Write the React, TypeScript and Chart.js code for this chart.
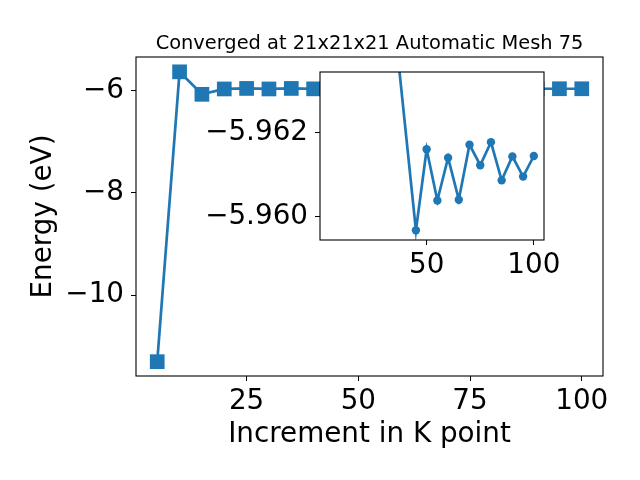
import React, { useEffect, useRef } from "react";
import { Chart, registerables } from "chart.js";

Chart.register(...registerables);

// ---- data ----
const K_POINTS = [5, 10, 15, 20, 25, 30, 35, 40, 45, 50, 55, 60, 65, 70, 75, 80, 85, 90, 95, 100];
const ENERGIES = [
  -11.3, -5.63, -6.07, -5.965, -5.955, -5.965, -5.955, -5.963, -5.95967, -5.9616,
  -5.96038, -5.9614, -5.9604, -5.96171, -5.96122, -5.96177, -5.96086, -5.96143, -5.96095, -5.96144,
];
const INSET_K = [35, 45, 50, 55, 60, 65, 70, 75, 80, 85, 90, 95, 100];
const INSET_E = [
  -5.9646, -5.95967, -5.9616, -5.96038, -5.9614, -5.9604, -5.96171, -5.96122, -5.96177,
  -5.96086, -5.96143, -5.96095, -5.96144,
];
const MAIN_X_TICKS = [25, 50, 75, 100];
const MAIN_Y_TICKS = [-10, -8, -6];
const INSET_X_TICKS = [50, 100];
const INSET_Y_TICKS = [-5.962, -5.96];
const TITLE = "Converged at 21x21x21 Automatic Mesh 75";
const X_LABEL = "Increment in K point";
const Y_LABEL = "Energy (eV)";

const BLUE = "#1f77b4";
const FONT = "DejaVu Sans";
const TICK_SIZE = 27.8;
const TITLE_SIZE = 19.4;
const LINE_W = 2.7;

const minus = (s: string) => s.replace("-", "\u2212");

const zeroPad = (s: any) => {
  s.paddingTop = 0;
  s.paddingBottom = 0;
  s.paddingLeft = 0;
  s.paddingRight = 0;
};

const framePlugin = {
  id: "frame",
  afterDatasetsDraw(chart: any) {
    const { ctx, chartArea: a } = chart;
    ctx.save();
    ctx.strokeStyle = "#000";
    ctx.lineWidth = 1.1;
    ctx.strokeRect(a.left, a.top, a.right - a.left, a.bottom - a.top);
    ctx.restore();
  },
};

const mainBg = {
  id: "mainBg",
  beforeDraw(chart: any) {
    const { ctx, width, height } = chart;
    ctx.save();
    ctx.fillStyle = "#fff";
    ctx.fillRect(0, 0, width, height);
    ctx.restore();
  },
  afterDraw(chart: any) {
    const { ctx, chartArea: a } = chart;
    ctx.save();
    ctx.fillStyle = "#000";
    ctx.font = `${TITLE_SIZE}px '${FONT}'`;
    ctx.textAlign = "center";
    ctx.textBaseline = "alphabetic";
    ctx.fillText(TITLE, (a.left + a.right) / 2, 49);
    ctx.restore();
  },
};

const insetBg = {
  id: "insetBg",
  beforeDatasetsDraw(chart: any) {
    const { ctx, chartArea: a } = chart;
    ctx.save();
    ctx.fillStyle = "#fff";
    ctx.fillRect(a.left, a.top, a.right - a.left, a.bottom - a.top);
    ctx.restore();
  },
};

export default function App() {
  const mainRef = useRef<HTMLCanvasElement>(null);
  const insetRef = useRef<HTMLCanvasElement>(null);

  useEffect(() => {
    Chart.defaults.color = "#000";
    Chart.defaults.font.family = FONT;

    const tickFont = { family: FONT, size: TICK_SIZE };
    const gridOpts = { drawOnChartArea: false, color: "#000", lineWidth: 1, tickLength: 5 };

    const main = new Chart(mainRef.current!, {
      type: "line",
      data: {
        datasets: [
          {
            data: K_POINTS.map((k, i) => ({ x: k, y: ENERGIES[i] })),
            borderColor: BLUE,
            backgroundColor: BLUE,
            borderWidth: LINE_W,
            pointStyle: "rect",
            pointRadius: 10.4,
            pointBorderWidth: 0,
            pointHoverRadius: 10.4,
          },
        ],
      },
      options: {
        animation: false,
        responsive: false,
        events: [],
        layout: { padding: { left: 0, top: 57, right: 37, bottom: 0 } },
        plugins: { legend: { display: false }, tooltip: { enabled: false }, title: { display: false } },
        scales: {
          x: {
            type: "linear",
            min: 0.25,
            max: 104.75,
            afterBuildTicks: (s: any) => {
              s.ticks = MAIN_X_TICKS.map((v) => ({ value: v }));
            },
            afterFit: (s: any) => {
              s.height = 104;
              zeroPad(s);
            },
            ticks: { font: tickFont, padding: 4, maxRotation: 0, autoSkip: false, callback: (v: any) => minus(String(v)) },
            grid: gridOpts,
            border: { display: false },
            title: { display: true, text: X_LABEL, font: tickFont, padding: { top: 0, bottom: 29 } },
          },
          y: {
            type: "linear",
            min: -11.58,
            max: -5.34,
            afterBuildTicks: (s: any) => {
              s.ticks = MAIN_Y_TICKS.map((v) => ({ value: v }));
            },
            afterFit: (s: any) => {
              s.width = 136;
              zeroPad(s);
            },
            ticks: { font: tickFont, padding: 7, autoSkip: false, callback: (v: any) => minus(String(v)) },
            grid: gridOpts,
            border: { display: false },
            title: { display: true, text: Y_LABEL, font: tickFont, padding: { top: 27, bottom: 0 } },
          },
        },
      },
      plugins: [mainBg, framePlugin],
    });

    const inset = new Chart(insetRef.current!, {
      type: "line",
      data: {
        datasets: [
          {
            data: INSET_K.map((k, i) => ({ x: k, y: INSET_E[i] })),
            borderColor: BLUE,
            backgroundColor: BLUE,
            borderWidth: LINE_W,
            pointStyle: "circle",
            pointRadius: 4.2,
            pointBorderWidth: 0,
            pointHoverRadius: 4.2,
            clip: 0,
          },
        ],
      },
      options: {
        animation: false,
        responsive: false,
        events: [],
        layout: { padding: { left: 0, top: 12, right: 16, bottom: 0 } },
        plugins: { legend: { display: false }, tooltip: { enabled: false }, title: { display: false } },
        scales: {
          x: {
            type: "linear",
            min: 0.25,
            max: 104.75,
            afterBuildTicks: (s: any) => {
              s.ticks = INSET_X_TICKS.map((v) => ({ value: v }));
            },
            afterFit: (s: any) => {
              s.height = 50;
              zeroPad(s);
            },
            ticks: { font: tickFont, padding: 4, maxRotation: 0, autoSkip: false, callback: (v: any) => String(v) },
            grid: gridOpts,
            border: { display: false },
          },
          y: {
            type: "linear",
            reverse: true,
            min: -5.96344,
            max: -5.95944,
            afterBuildTicks: (s: any) => {
              s.ticks = INSET_Y_TICKS.map((v) => ({ value: v }));
            },
            afterFit: (s: any) => {
              s.width = 130;
              zeroPad(s);
            },
            ticks: { font: tickFont, padding: 7, autoSkip: false, callback: (v: any) => minus(Number(v).toFixed(3)) },
            grid: gridOpts,
            border: { display: false },
          },
        },
      },
      plugins: [insetBg, framePlugin],
    });

    return () => {
      main.destroy();
      inset.destroy();
    };
  }, []);

  return (
    <div style={{ position: "fixed", left: 0, top: 0, width: 640, height: 480, background: "#fff" }}>
      <canvas ref={mainRef} width={640} height={480} style={{ position: "absolute", left: 0, top: 0, width: 640, height: 480 }} />
      <canvas ref={insetRef} width={370} height={230} style={{ position: "absolute", left: 190, top: 60, width: 370, height: 230 }} />
    </div>
  );
}
